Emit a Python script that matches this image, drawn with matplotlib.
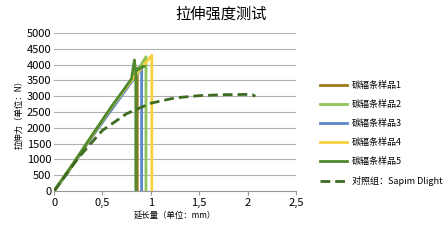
import matplotlib
matplotlib.use('Agg')
import matplotlib.pyplot as plt
import numpy as np

plt.rcParams['font.family'] = ['Noto Sans CJK SC', 'DejaVu Sans']

# sample curves (elongation mm, force N)
x1 = [0, 0.2, 0.4, 0.6, 0.75, 0.86, 0.86]
y1 = [0, 850, 1750, 2650, 3300, 3850, 0]
x2 = [0, 0.2, 0.4, 0.6, 0.8, 0.95, 0.95]
y2 = [0, 880, 1800, 2700, 3500, 4250, 0]
x3 = [0, 0.2, 0.4, 0.6, 0.8, 0.905, 0.905]
y3 = [0, 850, 1750, 2600, 3450, 3900, 0]
x4 = [0, 0.2, 0.4, 0.6, 0.8, 1.01, 1.01]
y4 = [0, 870, 1780, 2680, 3500, 4300, 0]
x5 = [0, 0.2, 0.4, 0.6, 0.8, 0.83, 0.84, 0.93, 0.845, 0.845]
y5 = [0, 880, 1800, 2700, 3550, 4150, 3850, 3950, 3800, 0]
xc = [0, 0.25, 0.5, 0.75, 1.0, 1.25, 1.5, 1.75, 2.0, 2.05, 2.08]
yc = [0, 1050, 1920, 2450, 2780, 2950, 3020, 3050, 3060, 3050, 3000]

labels = ['碳辐条样品1', '碳辐条样品2', '碳辐条样品3', '碳辐条样品4', '碳辐条样品5', '对照组：Sapim Dlight']
colors = ['#9c7a1c', '#8fc45a', '#5b87c9', '#f7d13f', '#4f8a30', '#3d6b22']

fig = plt.figure(figsize=(4.47, 2.4), dpi=100)
ax = fig.add_axes([0.121, 0.204, 0.541, 0.658])

for xs, ys, c, l in zip([x1, x2, x3, x4, x5], [y1, y2, y3, y4, y5], colors[:5], labels[:5]):
    ax.plot(xs, ys, color=c, lw=2, label=l)
ax.plot(xc, yc, color=colors[5], lw=2, ls=(0, (3.5, 1.8)), label=labels[5])

ax.set_xlim(0, 2.5)
ax.set_ylim(0, 5000)
ax.set_xticks(np.arange(0, 2.51, 0.5))
ax.set_xticklabels(['0', '0,5', '1', '1,5', '2', '2,5'])
ax.set_yticks(np.arange(0, 5001, 500))
ax.tick_params(axis='both', labelsize=8, length=3, color='#999999', pad=2)
ax.tick_params(axis='y', length=0)
ax.grid(axis='y', color='#b0b0b0', lw=0.8)
ax.set_axisbelow(True)
for s in ['top', 'right', 'left']:
    ax.spines[s].set_visible(False)
ax.spines['bottom'].set_color('#999999')

ax.set_xlabel('延长量（单位：mm）', fontsize=6, labelpad=2)
ax.set_ylabel('拉伸力（单位：N）', fontsize=6, labelpad=2)
fig.text(0.495, 0.92, '拉伸强度测试', fontsize=11, ha='center')

fig.legend(loc='upper left', bbox_to_anchor=(0.705, 0.68), frameon=False, fontsize=6.5,
           handlelength=3, labelspacing=1.1, borderpad=0, handletextpad=0.6)

plt.savefig('out.png', dpi=100)
